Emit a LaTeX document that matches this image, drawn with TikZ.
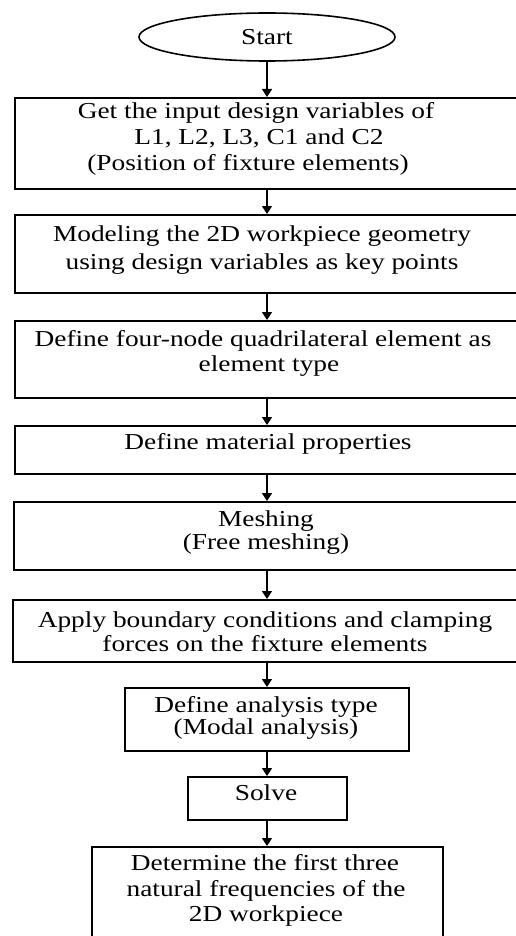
\documentclass[tikz,border=0pt]{standalone}
\usepackage{fontspec}
\setmainfont{Liberation Serif}[FakeStretch=1.2]
\usetikzlibrary{arrows.meta,shapes.geometric}
\begin{document}
\begin{tikzpicture}[x=1pt,y=-1pt,
  box/.style={draw, line width=1.6pt, rectangle, inner sep=0pt, anchor=north west},
  txt/.style={anchor=base, inner sep=0pt, font=\fontsize{22.8}{26}\selectfont},
  arr/.style={draw, line width=1.5pt, -{Triangle[length=8pt,width=10pt]}}]
\useasboundingbox (0,0) rectangle (516,936);
\clip (0,0) rectangle (516,936);
% start
\node[draw, ellipse, line width=1.6pt, minimum width=256pt, minimum height=48pt, inner sep=0pt] (start) at (267,37) {};
\node[txt] (t0) at (267,45) {Start};
% boxes
\node[box, minimum width=510pt, minimum height=91pt] (b1) at (14,97) {};
\node[box, minimum width=510pt, minimum height=78pt] (b2) at (14,214) {};
\node[box, minimum width=510pt, minimum height=77pt] (b3) at (14,320) {};
\node[box, minimum width=510pt, minimum height=48pt] (b4) at (14,425) {};
\node[box, minimum width=510pt, minimum height=68pt] (b5) at (13,501) {};
\node[box, minimum width=510pt, minimum height=62pt] (b6) at (12,599) {};
\node[box, minimum width=284pt, minimum height=63pt] (b7) at (124,687) {};
\node[box, minimum width=159pt, minimum height=43pt] (b8) at (187,776) {};
\node[box, minimum width=351pt, minimum height=120pt] (b9) at (91,846) {};
% texts
\node[txt] (t1a) at (256,119) {Get the input design variables of};
\node[txt] (t1b) at (259,145) {L1, L2, L3, C1 and C2};
\node[txt] (t1c) at (248,171) {(Position of fixture elements)};
\node[txt] (t2a) at (262,241) {Modeling the 2D workpiece geometry};
\node[txt] (t2b) at (262,269) {using design variables as key points};
\node[txt] (t3a) at (263,346) {Define four-node quadrilateral element as};
\node[txt] (t3b) at (269,371) {element type};
\node[txt] (t4) at (268,449) {Define material properties};
\node[txt] (t5a) at (266,526) {Meshing};
\node[txt] (t5b) at (266,549) {(Free meshing)};
\node[txt] (t6a) at (265,627) {Apply boundary conditions and clamping};
\node[txt] (t6b) at (265,651) {forces on the fixture elements};
\node[txt] (t7a) at (266,712) {Define analysis type};
\node[txt] (t7b) at (266,734) {(Modal analysis)};
\node[txt] (t8) at (266,800) {Solve};
\node[txt] (t9a) at (265,870) {Determine the first three};
\node[txt] (t9b) at (266,896) {natural frequencies of the};
\node[txt] (t9c) at (266,921) {2D workpiece};
% arrows
\draw[arr] (start.south) -- (start.south |- b1.north);
\draw[arr] (b1.south -| start.south) -- (b2.north -| start.south);
\draw[arr] (b2.south -| start.south) -- (b3.north -| start.south);
\draw[arr] (b3.south -| start.south) -- (b4.north -| start.south);
\draw[arr] (b4.south -| start.south) -- (b5.north -| start.south);
\draw[arr] (b5.south -| start.south) -- (b6.north -| start.south);
\draw[arr] (b6.south -| start.south) -- (b7.north -| start.south);
\draw[arr] (b7.south -| start.south) -- (b8.north -| start.south);
\draw[arr] (b8.south -| start.south) -- (b9.north -| start.south);
\end{tikzpicture}
\end{document}
